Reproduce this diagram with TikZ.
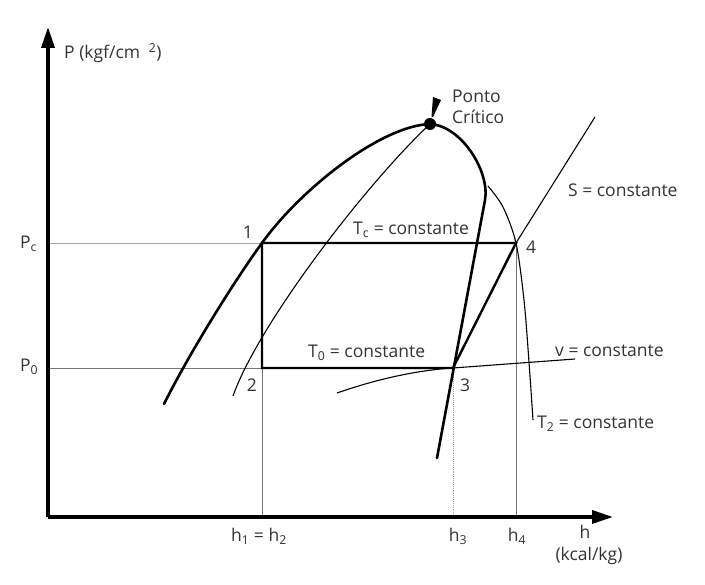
\documentclass[tikz,border=0pt]{standalone}
\usepackage{fontspec}
\setmainfont{Open Sans}
\usetikzlibrary{arrows.meta}
\begin{document}
\begin{tikzpicture}[x=1pt,y=-1pt,
  thickcurve/.style={line width=2.6pt, line cap=round, line join=round},
  cyclebox/.style={line width=2.4pt, line join=miter},
  thincurve/.style={line width=1.1pt},
  guide/.style={line width=0.9pt, black!55},
  lightguide/.style={line width=0.9pt, black!35},
  lbl/.style={font=\fontsize{17.5}{20}\selectfont, text=black!80, inner sep=0pt},
  axis/.style={line width=3.6pt, -{Triangle[length=21pt,width=13pt]}}]
\useasboundingbox (0,0) rectangle (705,585);
% axes
\coordinate (O) at (48,517);
\coordinate (ytop) at (48,27);
\coordinate (xend) at (613,517);
% cycle points
\coordinate (p1) at (262,243);
\coordinate (p2) at (262,368);
\coordinate (p3) at (453,368);
\coordinate (p4) at (516,243);
\coordinate (sEnd) at (595,117);
% guide lines
\draw[lightguide] (p1) -- (p1 -| O);
\draw[guide] (p2) -- (p2 -| O);
\draw[guide] (p2) -- (p2 |- O);
\draw[lightguide, densely dotted] (p3) -- (p3 |- O);
\draw[guide] (p4) -- (p4 |- O);
% critical point
\node[circle, fill, inner sep=0pt, minimum size=12pt] (crit) at (430,124) {};
% thin curves
\draw[thincurve] (233,396) .. controls (258,325) and (365,185) .. (crit.center);
\draw[thincurve] plot[smooth] coordinates {(488,186) (503,207) (p4) (524,300) (529,362) (533,420)};
\draw[thincurve] (337,393) .. controls (380,378) and (420,370) .. (p3) -- (575,359);
\draw[thincurve] (p4) -- (sEnd);
% saturation dome
\draw[thickcurve] (164,404) .. controls (190,352) and (235,280) .. (p1)
  .. controls (300,190) and (380,126) .. (crit.center);
\draw[thickcurve] (crit.center) .. controls (462,126) and (490,172) .. (485,200) -- (437,458);
% cycle
\draw[cyclebox] (p3) -- (p2) -- (p1) -- (p4) -- cycle;
% axes
\draw[axis] (O) -- (ytop);
\draw[axis] (O) -- (xend);
% pointer
\fill (433,97) -- (441,100) -- (433,117) -- (431.5,117) -- cycle;
% labels
\node[lbl, anchor=base west] (lP) at (64,59) {P (kgf/cm\hspace{0.5em}\textsuperscript{2})};
\node[lbl, anchor=base west] (lPc) at (20,249) {P\textsubscript{c}};
\node[lbl, anchor=base west] (lP0) at (20,372) {P\textsubscript{0}};
\node[lbl] (l1) at (248,232) {1};
\node[lbl] (l2) at (252,385) {2};
\node[lbl] (l3) at (465,385) {3};
\node[lbl] (l4) at (531,247) {4};
\node[lbl, anchor=base west] (lTc) at (353,235) {T\textsubscript{c} = constante};
\node[lbl, anchor=base west] (lT0) at (308,358) {T\textsubscript{0} = constante};
\node[lbl, anchor=base west] (lv) at (555,357) {v = constante};
\node[lbl, anchor=base west] (lS) at (568,197) {S = constante};
\node[lbl, anchor=base west] (lT2) at (537,429) {T\textsubscript{2} = constante};
\node[lbl, anchor=base west] (lPonto) at (452,103) {Ponto};
\node[lbl, anchor=base west] (lCrit) at (452,124) {Crítico};
\node[lbl, anchor=base] (lh12) at (259,542) {h\textsubscript{1} = h\textsubscript{2}};
\node[lbl, anchor=base] (lh3) at (458,542) {h\textsubscript{3}};
\node[lbl, anchor=base] (lh4) at (517,542) {h\textsubscript{4}};
\node[lbl, anchor=base] (lh) at (585,538) {h};
\node[lbl, anchor=base] (lkcal) at (589,561) {(kcal/kg)};
\end{tikzpicture}
\end{document}
